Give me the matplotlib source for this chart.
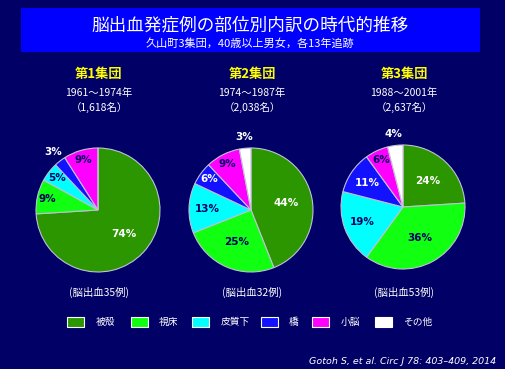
import numpy as np
import matplotlib
matplotlib.use("Agg")
import matplotlib.pyplot as plt
from matplotlib.patches import Rectangle

plt.rcParams["font.family"] = ["Noto Sans CJK JP", "DejaVu Sans"]

# data
title = "脳出血発症例の部位別内訳の時代的推移"
subtitle = "久山町3集団，40歳以上男女，各13年追跡"
categories = ["被殻", "視床", "皮質下", "橋", "小脳", "その他"]
group_names = ["第1集団", "第2集団", "第3集団"]
group_years = ["1961〜1974年", "1974〜1987年", "1988〜2001年"]
group_people = ["（1,618名）", "（2,038名）", "（2,637名）"]
group_cases = ["(脳出血35例)", "(脳出血32例)", "(脳出血53例)"]
group1 = [74, 9, 5, 3, 9, 0]
group2 = [44, 25, 13, 6, 9, 3]
group3 = [24, 36, 19, 11, 6, 4]
citation = "Gotoh S, et al. Circ J 78: 403–409, 2014"

colors = ["#2B9600", "#11FF11", "#00FFFF", "#1212FF", "#FF00FF", "#FFFFFF"]
text_colors = ["white", "#000066", "#000066", "white", "#000066", "#000066"]
BG = "#000066"

W, H = 506, 369
fig = plt.figure(figsize=(W / 100, H / 100), dpi=100, facecolor=BG)


def fx(x):
    return x / W


def fy(y):
    return 1 - y / H


# title banner
fig.patches.append(Rectangle((fx(21), fy(52)), fx(459), (52 - 8) / H,
                             transform=fig.transFigure, facecolor="#0000FF",
                             edgecolor="none"))
fig.text(fx(250), fy(25), title, color="white", fontsize=12.7, ha="center", va="center")
fig.text(fx(250), fy(43), subtitle, color="white", fontsize=8, ha="center", va="center")

centers = [(98, 210), (251, 210), (403, 207)]
R = 62
L = 1.4
for i, vals in enumerate([group1, group2, group3]):
    cx, cy = centers[i]
    ax = fig.add_axes([fx(cx - L * R), fy(cy + L * R), 2 * L * R / W, 2 * L * R / H])
    wedges, _ = ax.pie(vals, colors=colors, startangle=90, counterclock=False,
                       wedgeprops=dict(edgecolor="#c0c0d8", linewidth=0.8))
    ax.set_xlim(-L, L)
    ax.set_ylim(-L, L)
    ax.set_aspect("equal")
    ax.axis("off")
    for j, (w, v) in enumerate(zip(wedges, vals)):
        if v == 0:
            continue
        ang = np.deg2rad((w.theta1 + w.theta2) / 2)
        if v <= 4:
            d, c = 1.18, "white"
        elif v >= 20:
            d, c = 0.57, text_colors[j]
        elif v >= 11:
            d, c = 0.7, text_colors[j]
        else:
            d, c = 0.84, text_colors[j]
        ax.text(d * np.cos(ang), d * np.sin(ang), f"{v}%", color=c, fontsize=7.5,
                fontweight="bold", family="DejaVu Sans", ha="center", va="center")

    tx = cx + 1
    fig.text(fx(tx), fy(74), group_names[i], color="#FFFF00", fontsize=9.5,
             fontweight="bold", ha="center", va="center")
    fig.text(fx(tx), fy(93), group_years[i], color="white", fontsize=7.5,
             ha="center", va="center")
    fig.text(fx(tx), fy(108), group_people[i], color="white", fontsize=7.5,
             ha="center", va="center")
    fig.text(fx(tx), fy(292), group_cases[i], color="white", fontsize=7.5,
             ha="center", va="center")

# legend
patch_x = [67, 131, 192, 261, 312, 375]
label_x = [96, 159, 221, 289, 341, 403]
for k, cat in enumerate(categories):
    fig.patches.append(Rectangle((fx(patch_x[k]), fy(327)), 17 / W, 10 / H,
                                 transform=fig.transFigure, facecolor=colors[k],
                                 edgecolor="white", linewidth=0.8))
    fig.text(fx(label_x[k]), fy(322), cat, color="white", fontsize=7,
             ha="left", va="center")

fig.text(fx(496), fy(361), citation, color="white", fontsize=6.8, style="italic",
         family="DejaVu Sans", ha="right", va="center")

fig.savefig("out.png", dpi=100, facecolor=BG)
